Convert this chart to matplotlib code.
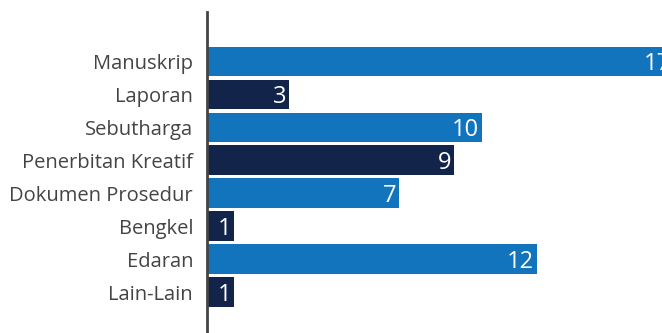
import matplotlib
matplotlib.use("Agg")
import matplotlib.pyplot as plt

categories = ["Manuskrip", "Laporan", "Sebutharga", "Penerbitan Kreatif",
              "Dokumen Prosedur", "Bengkel", "Edaran", "Lain-Lain"]
values = [17, 3, 10, 9, 7, 1, 12, 1]
colors = ["#1274bc", "#12244a"] * 4

plt.rcParams['font.family'] = ['Open Sans', 'DejaVu Sans']

fig = plt.figure(figsize=(6.62, 3.33), dpi=100)
ax = fig.add_axes([207 / 662, 0, 455 / 662, 321 / 333])

ypos = list(range(len(categories)))
ax.barh(ypos, values, height=0.9, color=colors)

# value labels sit inside the bar end; the 17 runs off the right edge like the original
for y, v in zip(ypos, values):
    ax.text(v - 0.12, y, str(v), ha="right", va="center_baseline",
            color="white", fontsize=17, clip_on=False)

ax.set_xlim(0, 16.55)
ax.set_ylim(8.24, -1.5)
ax.set_yticks(ypos)
ax.set_yticklabels(categories, fontsize=14.5, color="#444444")
ax.set_xticks([])
ax.tick_params(axis="y", length=0, pad=10)

for s in ["top", "right", "bottom"]:
    ax.spines[s].set_visible(False)
ax.spines["left"].set_color("#444444")
ax.spines["left"].set_linewidth(2)

fig.savefig("out.png", dpi=100)
